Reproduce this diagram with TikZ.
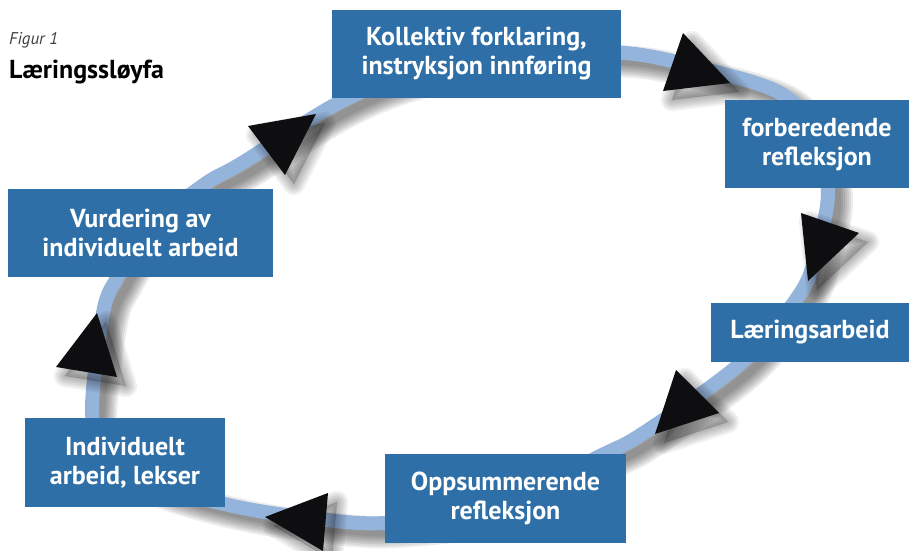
\documentclass[tikz,border=0pt]{standalone}
\usepackage{fontspec}
\setmainfont{PT Sans}
\definecolor{boxblue}{HTML}{2E6FA7}
\definecolor{ringblue}{HTML}{95B4DC}
\definecolor{tricol}{HTML}{0E0E10}
\begin{document}
\begin{tikzpicture}[x=1pt,y=-1pt,
  box/.style={fill=boxblue, text=white, font=\bfseries\fontsize{26}{29}\selectfont, align=center, inner sep=0pt},
  ringline/.style={line width=14pt, ringblue},
  ttl/.style={anchor=base west, inner sep=0pt}]
\useasboundingbox (0,0) rectangle (913,551);
\fill[white] (0,0) rectangle (913,551);
% ring
\path[save path=\ringsaved] plot[smooth cycle, tension=0.55] coordinates {
 (420,72) (530,55) (625,53) (700,68) (780,93) (817,135) (828,192) (818,245)
 (801,292) (742,362) (645,432) (600,456) (490,508) (385,523) (310,518) (233,506)
 (150,482) (105,448) (92,410) (103,313) (117,278) (150,228) (205,184) (242,163) (340,102)};
\begin{scope}[transform canvas={shift={(9pt,-9pt)}}]
\foreach \w in {32,28,24,20,16,12,8}{
  \draw[use path=\ringsaved, black, opacity=0.075, line width=\w pt];
}
\end{scope}
\draw[use path=\ringsaved, ringline];
% arrowheads
\foreach \ax/\ay/\bx/\by/\cx/\cy in {683/33/730/83/663/91, 801/213/859/233/808/281, 676/370/719/413/655/434, 328/493/265/517/323/551, 97/313/56/367/117/377, 248/126/316/114/285/175}{
  \begin{scope}[shift={(9,9)}]
    \fill[black, opacity=0.18] (\ax,\ay)--(\bx,\by)--(\cx,\cy)--cycle;
    \foreach \w in {2,6,10,14,18,22}{
      \draw[black, opacity=0.055, line width=\w pt, line join=round] (\ax,\ay)--(\bx,\by)--(\cx,\cy)--cycle;
    }
  \end{scope}
}
\foreach \ax/\ay/\bx/\by/\cx/\cy in {683/33/730/83/663/91, 801/213/859/233/808/281, 676/370/719/413/655/434, 328/493/265/517/323/551, 97/313/56/367/117/377, 248/126/316/114/285/175}{
  \fill[tricol] (\ax,\ay)--(\bx,\by)--(\cx,\cy)--cycle;
}
% boxes
\node[box, minimum width=289pt, minimum height=88pt] (kol) at (476.5,54) {Kollektiv forklaring,\\instryksjon innføring};
\node[box, minimum width=184pt, minimum height=88pt] (forb) at (817,144) {forberedende\\refleksjon};
\node[box, minimum width=198pt, minimum height=59pt] (laer) at (810,332.5) {Læringsarbeid};
\node[box, minimum width=241pt, minimum height=89pt] (opps) at (505.5,498.5) {Oppsummerende\\refleksjon};
\node[box, minimum width=200pt, minimum height=89pt] (indiv) at (125,462.5) {Individuelt\\arbeid, lekser};
\node[box, minimum width=265pt, minimum height=88pt] (vurd) at (140.5,233) {Vurdering av\\individuelt arbeid};
% title
\node[ttl, font=\itshape\fontsize{17}{20}\selectfont, text=black!75] (fig) at (9,45) {Figur 1};
\node[ttl, font=\bfseries\fontsize{26}{30}\selectfont, text=black] (title) at (9,78) {Læringssløyfa};
\end{tikzpicture}
\end{document}
